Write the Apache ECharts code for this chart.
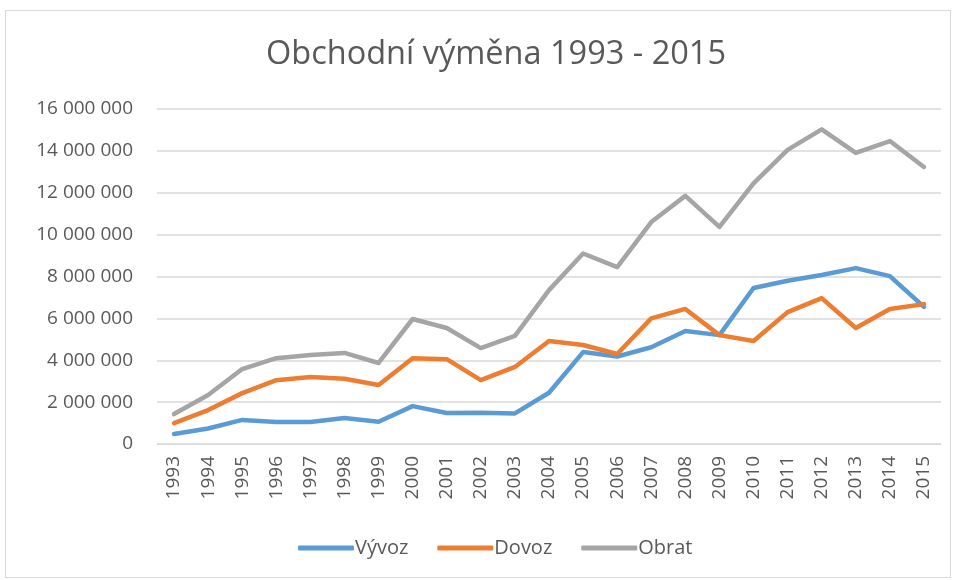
<!DOCTYPE html>
<html>
<head>
<meta charset="utf-8">
<script src="https://cdn.jsdelivr.net/npm/echarts@6/dist/echarts.min.js"></script>
<style>
    html, body { margin: 0; padding: 0; background: #fff; }
    #frame { position: absolute; left: 5px; top: 10px; width: 944px; height: 566px; border: 1px solid #d9d9d9; }
    #chart { position: absolute; left: 0; top: 0; width: 954px; height: 580px; }
</style>
</head>
<body>
<div id="frame"></div>
<div id="chart"></div>
<script>
    var years = ['1993', '1994', '1995', '1996', '1997', '1998', '1999', '2000', '2001', '2002', '2003', '2004',
        '2005', '2006', '2007', '2008', '2009', '2010', '2011', '2012', '2013', '2014', '2015']
    var vyvoz = [480000, 740000, 1150000, 1050000, 1050000, 1240000, 1060000, 1810000, 1480000, 1490000, 1460000, 2450000,
        4390000, 4180000, 4620000, 5400000, 5200000, 7450000, 7800000, 8070000, 8400000, 8020000, 6550000]
    var dovoz = [1000000, 1620000, 2430000, 3050000, 3200000, 3120000, 2820000, 4100000, 4050000, 3050000, 3680000, 4920000,
        4730000, 4300000, 6000000, 6450000, 5200000, 4920000, 6300000, 6970000, 5540000, 6450000, 6680000]
    var obrat = [1430000, 2340000, 3580000, 4100000, 4250000, 4350000, 3870000, 5970000, 5540000, 4580000, 5160000, 7350000,
        9100000, 8450000, 10600000, 11850000, 10370000, 12450000, 14050000, 15030000, 13900000, 14470000, 13230000]

    var txt = '#595959'
    var font = 'Open Sans'

    function fmt(v) {
        return String(v).replace(/\B(?=(\d{3})+(?!\d))/g, ' ')
    }

    function line(name, data, color) {
        return {
            name: name,
            type: 'line',
            data: data,
            showSymbol: false,
            symbol: 'none',
            lineStyle: { width: 4.5, color: color, cap: 'round', join: 'round' },
            itemStyle: { color: color },
            animation: false
        }
    }

    var myChart = echarts.init(document.getElementById('chart'))
    var option = {
        backgroundColor: 'transparent',
        title: {
            text: 'Obchodní výměna 1993 - 2015',
            left: 261,
            top: 33,
            textStyle: { fontFamily: font, fontWeight: 'normal', fontSize: 32.5, color: txt }
        },
        legend: {
            bottom: 17,
            left: 293,
            itemWidth: 56,
            itemHeight: 5,
            itemGap: 29,
            icon: 'roundRect',
            textStyle: { fontFamily: font, fontSize: 20, color: txt, padding: [0, 0, 0, -4] },
            data: ['Vývoz', 'Dovoz', 'Obrat']
        },
        grid: { left: 157, right: 13, top: 109, bottom: 136 },
        xAxis: {
            type: 'category',
            data: years,
            boundaryGap: true,
            axisLine: { lineStyle: { color: '#d9d9d9', width: 1 } },
            axisTick: { show: false },
            axisLabel: { rotate: 90, fontFamily: font, fontSize: 19, color: txt, margin: 12 }
        },
        yAxis: {
            type: 'value',
            min: 0,
            max: 16000000,
            interval: 2000000,
            axisLine: { show: false },
            axisTick: { show: false },
            splitLine: { lineStyle: { color: '#d9d9d9', width: 1.5 } },
            axisLabel: { fontFamily: font, fontSize: 19, color: txt, margin: 24, formatter: fmt }
        },
        series: [
            line('Vývoz', vyvoz, '#5B9BD5'),
            line('Dovoz', dovoz, '#ED7D31'),
            line('Obrat', obrat, '#A5A5A5')
        ]
    }
    myChart.setOption(option)
</script>
</body>
</html>
